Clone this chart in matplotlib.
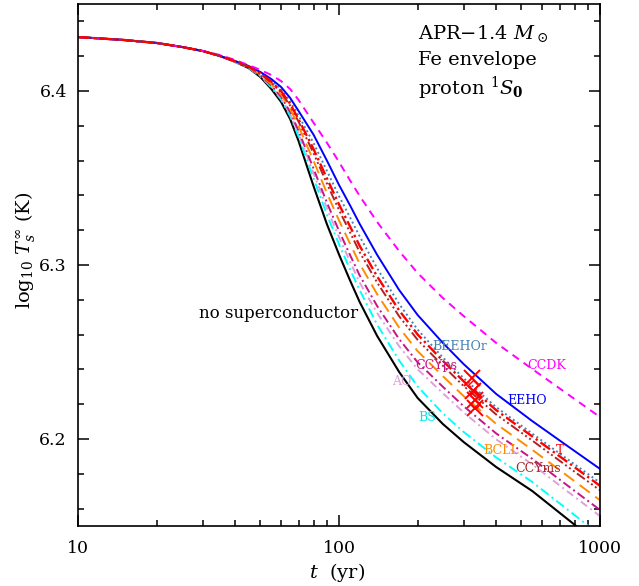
#!/usr/bin/python

import matplotlib
matplotlib.use("Agg")
import matplotlib.pyplot as plt
from matplotlib.ticker import LogLocator, MultipleLocator, NullFormatter

### surface temperature cooling curves, one per proton 1S0 gap model
t_yr = [10, 15, 20, 25, 30, 35, 40, 45, 50, 55, 60, 65, 70, 80, 90, 100,
        110, 120, 140, 170, 200, 250, 300, 400, 550, 750, 1000]

no_sc = [6.4310, 6.4293, 6.4276, 6.4253, 6.4230, 6.4201, 6.4167, 6.4132, 6.4080, 6.4012,
         6.3937, 6.3838, 6.3712, 6.3450, 6.3232, 6.3060, 6.2914, 6.2787, 6.2592, 6.2385,
         6.2236, 6.2086, 6.1983, 6.1839, 6.1701, 6.1540, 6.1391]
bs = [6.4310, 6.4293, 6.4276, 6.4253, 6.4230, 6.4201, 6.4167, 6.4134, 6.4084, 6.4021,
      6.3951, 6.3856, 6.3738, 6.3495, 6.3287, 6.3119, 6.2978, 6.2855, 6.2657, 6.2451,
      6.2302, 6.2147, 6.2041, 6.1894, 6.1753, 6.1595, 6.1448]
ao = [6.4310, 6.4293, 6.4276, 6.4253, 6.4230, 6.4201, 6.4168, 6.4135, 6.4088, 6.4026,
      6.3959, 6.3869, 6.3756, 6.3525, 6.3324, 6.3160, 6.3022, 6.2899, 6.2724, 6.2533,
      6.2401, 6.2263, 6.2153, 6.1998, 6.1854, 6.1699, 6.1557]
ccyps = [6.4310, 6.4293, 6.4276, 6.4253, 6.4230, 6.4201, 6.4169, 6.4136, 6.4090, 6.4032,
         6.3967, 6.3879, 6.3771, 6.3551, 6.3356, 6.3196, 6.3060, 6.2940, 6.2764, 6.2574,
         6.2441, 6.2300, 6.2189, 6.2032, 6.1886, 6.1733, 6.1592]
bcll = [6.4310, 6.4293, 6.4276, 6.4253, 6.4230, 6.4201, 6.4169, 6.4138, 6.4095, 6.4040,
        6.3979, 6.3897, 6.3797, 6.3596, 6.3411, 6.3256, 6.3125, 6.3007, 6.2832, 6.2640,
        6.2505, 6.2361, 6.2247, 6.2087, 6.1938, 6.1788, 6.1648]
ccyms = [6.4310, 6.4293, 6.4276, 6.4253, 6.4230, 6.4201, 6.4170, 6.4140, 6.4099, 6.4048,
         6.3992, 6.3916, 6.3823, 6.3640, 6.3466, 6.3316, 6.3190, 6.3074, 6.2899, 6.2705,
         6.2570, 6.2421, 6.2305, 6.2141, 6.1991, 6.1842, 6.1705]
t_gap = [6.4310, 6.4293, 6.4276, 6.4253, 6.4230, 6.4201, 6.4171, 6.4140, 6.4101, 6.4054,
         6.3999, 6.3926, 6.3837, 6.3664, 6.3496, 6.3348, 6.3224, 6.3110, 6.2934, 6.2739,
         6.2601, 6.2449, 6.2332, 6.2166, 6.2015, 6.1868, 6.1731]
beehor = [6.4310, 6.4293, 6.4276, 6.4253, 6.4230, 6.4201, 6.4172, 6.4142, 6.4105, 6.4060,
          6.4009, 6.3941, 6.3858, 6.3699, 6.3539, 6.3396, 6.3276, 6.3164, 6.2981, 6.2776,
          6.2629, 6.2468, 6.2350, 6.2183, 6.2031, 6.1884, 6.1749]
eeho = [6.4310, 6.4293, 6.4276, 6.4253, 6.4230, 6.4201, 6.4172, 6.4144, 6.4109, 6.4069,
        6.4023, 6.3960, 6.3885, 6.3747, 6.3598, 6.3460, 6.3345, 6.3236, 6.3058, 6.2856,
        6.2713, 6.2552, 6.2431, 6.2259, 6.2103, 6.1960, 6.1828]
ccdk = [6.4310, 6.4293, 6.4276, 6.4253, 6.4230, 6.4207, 6.4178, 6.4149, 6.4121, 6.4092,
        6.4057, 6.4011, 6.3948, 6.3816, 6.3701, 6.3592, 6.3488, 6.3397, 6.3247, 6.3080,
        6.2954, 6.2810, 6.2707, 6.2552, 6.2402, 6.2259, 6.2126]

### red markers near t ~ 330 yr
cross_t = [323, 326, 333, 333]
cross_T = [6.2351, 6.2276, 6.2224, 6.2178]
diam_t = [326, 333, 333]
diam_T = [6.2310, 6.2253, 6.2201]

plt.rcParams['font.family'] = 'DejaVu Serif'
plt.rcParams['mathtext.fontset'] = 'dejavuserif'

fig = plt.figure(figsize=(6.39, 5.86), dpi=100)
ax = fig.add_axes([0.1221, 0.1024, 0.8169, 0.8908])

lw = 1.4
ax.plot(t_yr, no_sc, color="black", lw=1.5, solid_capstyle="butt")
ax.plot(t_yr, bs, color="#00FFFF", lw=lw, dashes=(5, 2, 1, 2))
ax.plot(t_yr, ao, color="#DDA0DD", lw=lw, dashes=(4, 2, 1, 2))
ax.plot(t_yr, ccyps, color="#C71585", lw=lw, dashes=(4.5, 1.8, 1, 1.8))
ax.plot(t_yr, bcll, color="#FF8C00", lw=lw, dashes=(6.5, 3.5))
ax.plot(t_yr, beehor, color="#4682B4", lw=lw, dashes=(1, 1.5))
ax.plot(t_yr, eeho, color="#0000FF", lw=lw)
ax.plot(t_yr, ccdk, color="#FF00FF", lw=lw, dashes=(4, 3))
ax.plot(t_yr, ccyms, color="#B22222", lw=lw, dashes=(5, 1.5, 1, 1.5, 1, 1.5, 1, 1.5))
ax.plot(t_yr, t_gap, color="#FF0000", lw=1.7, dashes=(5, 1.5, 1, 1.5))

ax.plot(cross_t, cross_T, ls="none", marker="x", ms=11, mew=1.4, color="#FF0000")
ax.plot(diam_t, diam_T, ls="none", marker="D", ms=5, mew=1.0, mfc="none", mec="#FF0000")

### curve labels
ax.text(118, 6.2724, "no superconductor", fontsize=12, ha="right", va="center", color="black")
ax.text(227, 6.2529, "BEEHOr", fontsize=9, va="center", color="#4682B4")
ax.text(196, 6.2420, "CCYps", fontsize=9, va="center", color="#C71585")
ax.text(160, 6.2333, "AO", fontsize=9, va="center", color="#DDA0DD")
ax.text(201, 6.2126, "BS", fontsize=9, va="center", color="#00E5EE")
ax.text(356, 6.1931, "BCLL", fontsize=9, va="center", color="#FF8C00")
ax.text(678, 6.1931, "T", fontsize=9, va="center", color="#FF0000")
ax.text(472, 6.1828, "CCYms", fontsize=9, va="center", color="#A52A2A")
ax.text(440, 6.2224, "EEHO", fontsize=9, va="center", color="#0000FF")
ax.text(525, 6.2425, "CCDK", fontsize=9, va="center", color="#FF00FF")

ax.text(0.651, 0.944, r"APR$-$1.4 $M_\odot$", transform=ax.transAxes, fontsize=14, va="center")
ax.text(0.651, 0.893, "Fe envelope", transform=ax.transAxes, fontsize=14, va="center")
ax.text(0.651, 0.839, r"proton $^1S_\mathbf{0}$", transform=ax.transAxes, fontsize=14, va="center")

ax.set_xscale("log")
ax.set_xlim(10, 1000)
ax.set_ylim(6.15, 6.45)
ax.set_xticks([10, 100, 1000])
ax.set_xticklabels(["10", "100", "1000"])
ax.xaxis.set_minor_locator(LogLocator(base=10, subs=range(2, 10)))
ax.xaxis.set_minor_formatter(NullFormatter())
ax.set_yticks([6.2, 6.3, 6.4])
ax.set_yticklabels(["6.2", "6.3", "6.4"])
ax.yaxis.set_minor_locator(MultipleLocator(0.02))

ax.tick_params(which="both", direction="in", top=True, right=True, width=1.1, labelsize=12.5)
ax.tick_params(which="major", length=8)
ax.tick_params(which="minor", length=4)
ax.tick_params(axis="x", pad=10)
ax.tick_params(axis="y", pad=8)
for s in ax.spines.values():
    s.set_linewidth(1.2)

fig.text(337 / 639, 1 - 573 / 586, r"$t$  (yr)", fontsize=14, ha="center", va="center")
fig.text(25 / 639, 1 - 250 / 586, r"log$_{10}$ $T_s^\infty$ (K)", fontsize=14,
         rotation=90, ha="center", va="center")

fig.savefig("out.png", dpi=100)
